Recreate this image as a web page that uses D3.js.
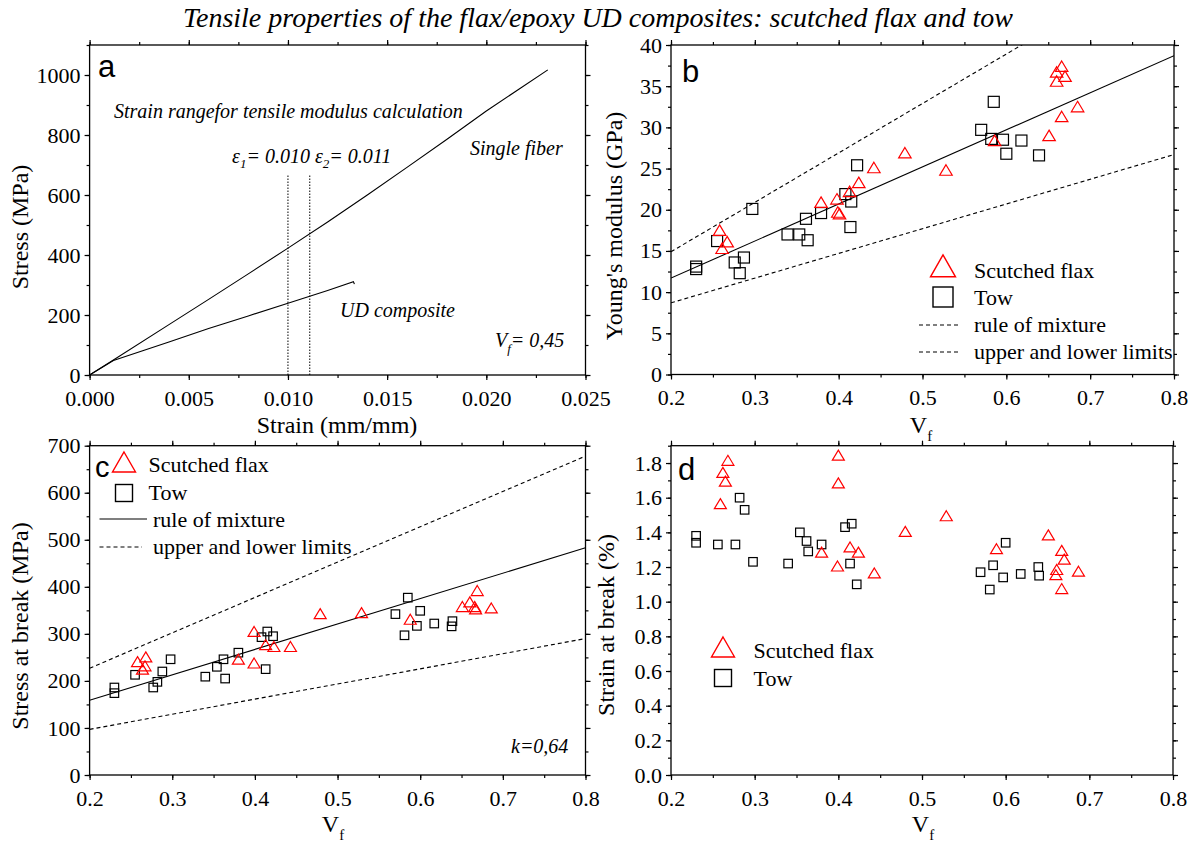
<!DOCTYPE html>
<html>
<head>
<meta charset="utf-8">
<script src="https://cdn.jsdelivr.net/npm/d3@7"></script>
<style>
  body { margin: 0; background: #fff; }
</style>
</head>
<body>
<div id="chart"></div>
<script>
// ---- Data ----
// a: stress-strain curves
const fiberStrain = [0, 0.0012, 0.004, 0.006, 0.008, 0.010, 0.012, 0.014, 0.016, 0.018, 0.020, 0.0231]
const fiberStress = [0, 50, 168, 252, 337, 423, 510, 600, 692, 785, 880, 1017]
const compStrain = [0, 0.0012, 0.004, 0.006, 0.008, 0.010, 0.012, 0.0133, 0.01335]
const compStress = [0, 48, 110, 155, 197, 239, 282, 311, 303]
const strainLimits = [0.010, 0.0111]

// b: Young's modulus
const flaxVfB = [0.258, 0.267, 0.261, 0.379, 0.398, 0.399, 0.401, 0.413, 0.424, 0.442, 0.479, 0.528, 0.586, 0.651, 0.666, 0.685, 0.660, 0.666, 0.670, 0.660]
const flaxEB = [17.4, 16.0, 15.2, 20.8, 21.2, 19.6, 19.4, 22.1, 23.2, 25.0, 26.8, 24.7, 28.3, 28.9, 31.2, 32.4, 36.6, 37.3, 36.1, 35.5]
const towVfB = [0.230, 0.230, 0.255, 0.276, 0.282, 0.287, 0.297, 0.339, 0.353, 0.363, 0.361, 0.379, 0.408, 0.415, 0.414, 0.422, 0.570, 0.585, 0.582, 0.596, 0.600, 0.618, 0.639]
const towEB = [13.1, 12.8, 16.2, 13.6, 12.3, 14.2, 20.1, 17.0, 17.0, 16.3, 18.9, 19.6, 21.9, 21.0, 17.9, 25.4, 29.7, 33.1, 28.6, 28.5, 26.8, 28.4, 26.6]
const lineVf = [0.2, 0.8]
const romEB = [11.7, 38.7]
const upperEB = [14.9, 50.9]
const lowerEB = [8.7, 26.7]

// c: stress at break
const flaxVfC = [0.258, 0.268, 0.267, 0.264, 0.380, 0.399, 0.399, 0.413, 0.423, 0.443, 0.479, 0.529, 0.588, 0.651, 0.660, 0.666, 0.667, 0.669, 0.686]
const flaxSC = [239, 249, 230, 223, 244, 303, 236, 275, 271, 271, 341, 343, 329, 356, 366, 356, 351, 390, 353]
const towVfC = [0.230, 0.230, 0.255, 0.277, 0.282, 0.288, 0.298, 0.340, 0.354, 0.362, 0.364, 0.380, 0.408, 0.415, 0.422, 0.413, 0.570, 0.585, 0.581, 0.600, 0.596, 0.617, 0.639, 0.638]
const towSC = [186, 174, 213, 186, 198, 220, 246, 209, 230, 246, 205, 260, 293, 305, 295, 225, 342, 377, 297, 349, 317, 322, 327, 316]
const romSC = [159, 483]
const upperSC = [227, 678]
const lowerSC = [97, 290]

// d: strain at break
const flaxVfD = [0.268, 0.262, 0.265, 0.259, 0.400, 0.400, 0.380, 0.399, 0.414, 0.424, 0.443, 0.480, 0.529, 0.589, 0.651, 0.667, 0.670, 0.661, 0.660, 0.667, 0.687]
const flaxSD = [1.81, 1.74, 1.69, 1.56, 1.84, 1.68, 1.28, 1.20, 1.31, 1.28, 1.16, 1.40, 1.49, 1.30, 1.38, 1.29, 1.24, 1.18, 1.15, 1.07, 1.17]
const towVfD = [0.230, 0.230, 0.256, 0.277, 0.282, 0.288, 0.298, 0.340, 0.354, 0.362, 0.364, 0.380, 0.408, 0.416, 0.414, 0.422, 0.570, 0.585, 0.581, 0.597, 0.600, 0.618, 0.639, 0.640]
const towSD = [1.38, 1.34, 1.33, 1.33, 1.60, 1.53, 1.23, 1.22, 1.40, 1.35, 1.29, 1.33, 1.43, 1.45, 1.22, 1.10, 1.17, 1.21, 1.07, 1.14, 1.34, 1.16, 1.20, 1.15]

// tick labels
const ticksStrain = [0, 0.005, 0.010, 0.015, 0.020, 0.025]
const ticksStress = [0, 200, 400, 600, 800, 1000]
const ticksVf = [0.2, 0.3, 0.4, 0.5, 0.6, 0.7, 0.8]
const ticksE = [0, 5, 10, 15, 20, 25, 30, 35, 40]
const ticksSC = [0, 100, 200, 300, 400, 500, 600, 700]
const ticksSD = [0, 0.2, 0.4, 0.6, 0.8, 1.0, 1.2, 1.4, 1.6, 1.8]

const RED = '#ff0000'
const SERIF = '"Liberation Serif", "Times New Roman", serif'
const SANS = '"Liberation Sans", Arial, sans-serif'

const svg = d3.select('#chart')
  .append('svg')
  .attr('width', 1189)
  .attr('height', 843)
  .attr('font-family', SERIF)

svg.append('text')
  .attr('x', 598).attr('y', 26.5)
  .attr('text-anchor', 'middle')
  .attr('font-size', 28)
  .attr('font-style', 'italic')
  .text('Tensile properties of the flax/epoxy UD composites: scutched flax and tow')

let clipId = 0
function panel(x, y, xMajor, xMinor, yMajor, yMinor, xFmt, yFmt) {
  const g = svg.append('g')
  const [x0, x1] = x.range()
  const [y0, y1] = y.range()
  const add = (axis, tr) => {
    const a = g.append('g').attr('transform', tr).call(axis)
    a.select('.domain').remove()
    a.attr('font-family', SERIF).attr('font-size', 22)
    a.selectAll('line').attr('stroke-width', 1.2)
    return a
  }
  add(d3.axisBottom(x).tickValues(xMajor).tickFormat(xFmt).tickSize(5).tickPadding(10), `translate(0,${y0})`)
  add(d3.axisBottom(x).tickValues(xMinor).tickFormat('').tickSize(3), `translate(0,${y0})`)
  add(d3.axisTop(x).tickValues(xMajor).tickFormat('').tickSize(5), `translate(0,${y1})`)
  add(d3.axisTop(x).tickValues(xMinor).tickFormat('').tickSize(3), `translate(0,${y1})`)
  add(d3.axisLeft(y).tickValues(yMajor).tickFormat(yFmt).tickSize(5).tickPadding(4), `translate(${x0},0)`)
  add(d3.axisLeft(y).tickValues(yMinor).tickFormat('').tickSize(3), `translate(${x0},0)`)
  add(d3.axisRight(y).tickValues(yMajor).tickFormat('').tickSize(5), `translate(${x1},0)`)
  add(d3.axisRight(y).tickValues(yMinor).tickFormat('').tickSize(3), `translate(${x1},0)`)

  const id = 'clip' + (clipId++)
  svg.append('clipPath').attr('id', id)
    .append('rect').attr('x', x0).attr('y', y1).attr('width', x1 - x0).attr('height', y0 - y1)
  const plot = svg.append('g').attr('clip-path', `url(#${id})`)
  const marks = svg.append('g')

  g.append('rect')
    .attr('x', x0).attr('y', y1)
    .attr('width', x1 - x0).attr('height', y0 - y1)
    .attr('fill', 'none').attr('stroke', '#000').attr('stroke-width', 1.3)
  return { g, plot, marks }
}

function triPath(w, h) {
  return `M0,${-h * 0.6}L${w / 2},${h * 0.4}L${-w / 2},${h * 0.4}Z`
}

function drawTri(sel, xs, ys, x, y, w, h) {
  sel.selectAll(null)
    .data(xs)
    .join('path')
    .attr('d', triPath(w, h))
    .attr('transform', (d, i) => `translate(${x(d)},${y(ys[i])})`)
    .attr('fill', 'none').attr('stroke', RED).attr('stroke-width', 1.2)
}

function drawSq(sel, xs, ys, x, y, s) {
  sel.selectAll(null)
    .data(xs)
    .join('rect')
    .attr('x', d => x(d) - s / 2)
    .attr('y', (d, i) => y(ys[i]) - s / 2)
    .attr('width', s).attr('height', s)
    .attr('fill', 'none').attr('stroke', '#000').attr('stroke-width', 1.2)
}

function drawLine(sel, xs, ys, x, y, dash) {
  const line = d3.line().x(d => x(d[0])).y(d => y(d[1]))
  sel.append('path')
    .attr('d', line(xs.map((v, i) => [v, ys[i]])))
    .attr('fill', 'none').attr('stroke', '#000')
    .attr('stroke-width', 1.1)
    .attr('stroke-dasharray', dash || null)
}

function label(txt, x, y, opts = {}) {
  return svg.append('text')
    .attr('x', x).attr('y', y)
    .attr('font-size', opts.size || 22)
    .attr('font-style', opts.italic ? 'italic' : null)
    .attr('font-family', opts.family || SERIF)
    .attr('text-anchor', opts.anchor || 'start')
    .text(txt)
}

function yTitle(txt, x, cy) {
  svg.append('text')
    .attr('transform', `translate(${x},${cy}) rotate(-90)`)
    .attr('text-anchor', 'middle')
    .attr('font-size', 24)
    .text(txt)
}

function vfTitle(cx, y) {
  const t = svg.append('text').attr('x', cx).attr('y', y)
    .attr('text-anchor', 'middle').attr('font-size', 24)
  t.append('tspan').text('V')
  t.append('tspan').attr('dy', 8).attr('font-size', 15).text('f')
}

const EPS = 1e-9
const minor = (a, b, s) => d3.range(a, b + EPS, s)

// ---- Panel a ----
const xA = d3.scaleLinear().domain([0, 0.025]).range([89.6, 585.5])
const yA = d3.scaleLinear().domain([0, 1100]).range([375, 45])
const pA = panel(xA, yA, ticksStrain, minor(0, 0.025, 0.0025), ticksStress, minor(0, 1100, 100),
  d3.format('.3f'), d3.format('d'))
drawLine(pA.plot, fiberStrain, fiberStress, xA, yA)
drawLine(pA.plot, compStrain, compStress, xA, yA)
strainLimits.forEach(s => {
  pA.plot.append('line')
    .attr('x1', xA(s)).attr('x2', xA(s))
    .attr('y1', yA(0)).attr('y2', yA(670))
    .attr('stroke', '#000').attr('stroke-width', 1)
    .attr('stroke-dasharray', '1.5,1.5')
})
label('a', 98, 77, { size: 31, family: SANS })
label('Strain rangefor tensile modulus calculation', 114, 118, { size: 20, italic: true })
label('Single fiber', 470, 155, { size: 20, italic: true })
label('UD composite', 340, 317, { size: 20, italic: true })
{
  const t = svg.append('text').attr('x', 232).attr('y', 163)
    .attr('font-size', 20).attr('font-style', 'italic')
  t.append('tspan').text('ε')
  t.append('tspan').attr('dy', 5).attr('font-size', 13).text('1')
  t.append('tspan').attr('dy', -5).text('= 0.010 ε')
  t.append('tspan').attr('dy', 5).attr('font-size', 13).text('2')
  t.append('tspan').attr('dy', -5).text('= 0.011')
  const v = svg.append('text').attr('x', 495).attr('y', 347)
    .attr('font-size', 20).attr('font-style', 'italic')
  v.append('tspan').text('V')
  v.append('tspan').attr('dy', 6).attr('font-size', 13).text('f')
  v.append('tspan').attr('dy', -6).text('= 0,45')
}
yTitle('Stress (MPa)', 28, 227)
label('Strain (mm/mm)', 337, 433, { size: 24, anchor: 'middle' })

// ---- Panel b ----
const xB = d3.scaleLinear().domain([0.2, 0.8]).range([671, 1174])
const yB = d3.scaleLinear().domain([0, 40]).range([374.5, 45])
const pB = panel(xB, yB, ticksVf, minor(0.2, 0.8, 0.05), ticksE, minor(0, 40, 2.5),
  d3.format('.1f'), d3.format('d'))
drawLine(pB.plot, lineVf, upperEB, xB, yB, '4,3')
drawLine(pB.plot, lineVf, lowerEB, xB, yB, '4,3')
drawLine(pB.plot, lineVf, romEB, xB, yB)
drawSq(pB.marks, towVfB, towEB, xB, yB, 11)
drawTri(pB.marks, flaxVfB, flaxEB, xB, yB, 12.5, 10.5)
label('b', 682, 82, { size: 31, family: SANS })
yTitle("Young's modulus (GPa)", 622, 226)
vfTitle(921, 433)
// legend b
svg.append('path').attr('d', triPath(25, 22)).attr('transform', 'translate(943,268)')
  .attr('fill', 'none').attr('stroke', RED).attr('stroke-width', 1.4)
svg.append('rect').attr('x', 933).attr('y', 287).attr('width', 20).attr('height', 20)
  .attr('fill', 'none').attr('stroke', '#000').attr('stroke-width', 1.4)
label('Scutched flax', 974, 278)
label('Tow', 974, 305)
svg.append('line').attr('x1', 919).attr('x2', 961).attr('y1', 325).attr('y2', 325)
  .attr('stroke', '#000').attr('stroke-width', 1.1).attr('stroke-dasharray', '4,3')
svg.append('line').attr('x1', 919).attr('x2', 961).attr('y1', 352).attr('y2', 352)
  .attr('stroke', '#000').attr('stroke-width', 1.1).attr('stroke-dasharray', '4,3')
label('rule of mixture', 974, 332)
label('upper and lower limits', 974, 359)

// ---- Panel c ----
const xC = d3.scaleLinear().domain([0.2, 0.8]).range([89.6, 585.5])
const yC = d3.scaleLinear().domain([0, 700]).range([775, 445.7])
const pC = panel(xC, yC, ticksVf, minor(0.2, 0.8, 0.05), ticksSC, minor(0, 700, 50),
  d3.format('.1f'), d3.format('d'))
drawLine(pC.plot, lineVf, upperSC, xC, yC, '4,3')
drawLine(pC.plot, lineVf, lowerSC, xC, yC, '4,3')
drawLine(pC.plot, lineVf, romSC, xC, yC)
drawSq(pC.marks, towVfC, towSC, xC, yC, 8.5)
drawTri(pC.marks, flaxVfC, flaxSC, xC, yC, 12, 10)
label('c', 95, 477, { size: 29, family: SANS })
svg.append('path').attr('d', triPath(23, 20)).attr('transform', 'translate(124,464)')
  .attr('fill', 'none').attr('stroke', RED).attr('stroke-width', 1.4)
svg.append('rect').attr('x', 115.5).attr('y', 484.5).attr('width', 17).attr('height', 17)
  .attr('fill', 'none').attr('stroke', '#000').attr('stroke-width', 1.4)
label('Scutched flax', 148.5, 472)
label('Tow', 148.5, 500)
svg.append('line').attr('x1', 99.5).attr('x2', 147).attr('y1', 519).attr('y2', 519)
  .attr('stroke', '#000').attr('stroke-width', 1.1)
svg.append('line').attr('x1', 99.5).attr('x2', 142).attr('y1', 547).attr('y2', 547)
  .attr('stroke', '#000').attr('stroke-width', 1.1).attr('stroke-dasharray', '4,3')
label('rule of mixture', 153, 527)
label('upper and lower limits', 153, 554)
label('k=0,64', 511, 753, { size: 20, italic: true })
yTitle('Stress at break (MPa)', 28, 626)
vfTitle(333, 832)

// ---- Panel d ----
const xD = d3.scaleLinear().domain([0.2, 0.8]).range([671, 1173])
const yD = d3.scaleLinear().domain([0, 1.9]).range([775, 445.7])
const pD = panel(xD, yD, ticksVf, minor(0.2, 0.8, 0.05), ticksSD, minor(0, 1.9, 0.1),
  d3.format('.1f'), d3.format('.1f'))
drawSq(pD.marks, towVfD, towSD, xD, yD, 8.5)
drawTri(pD.marks, flaxVfD, flaxSD, xD, yD, 12, 10)
label('d', 678, 480, { size: 31, family: SANS })
svg.append('path').attr('d', triPath(23, 20)).attr('transform', 'translate(723,649)')
  .attr('fill', 'none').attr('stroke', RED).attr('stroke-width', 1.4)
svg.append('rect').attr('x', 714.5).attr('y', 669.5).attr('width', 17).attr('height', 17)
  .attr('fill', 'none').attr('stroke', '#000').attr('stroke-width', 1.4)
label('Scutched flax', 753.6, 658)
label('Tow', 753.6, 686)
yTitle('Strain at break (%)', 614, 625)
vfTitle(923, 832)
</script>
</body>
</html>
